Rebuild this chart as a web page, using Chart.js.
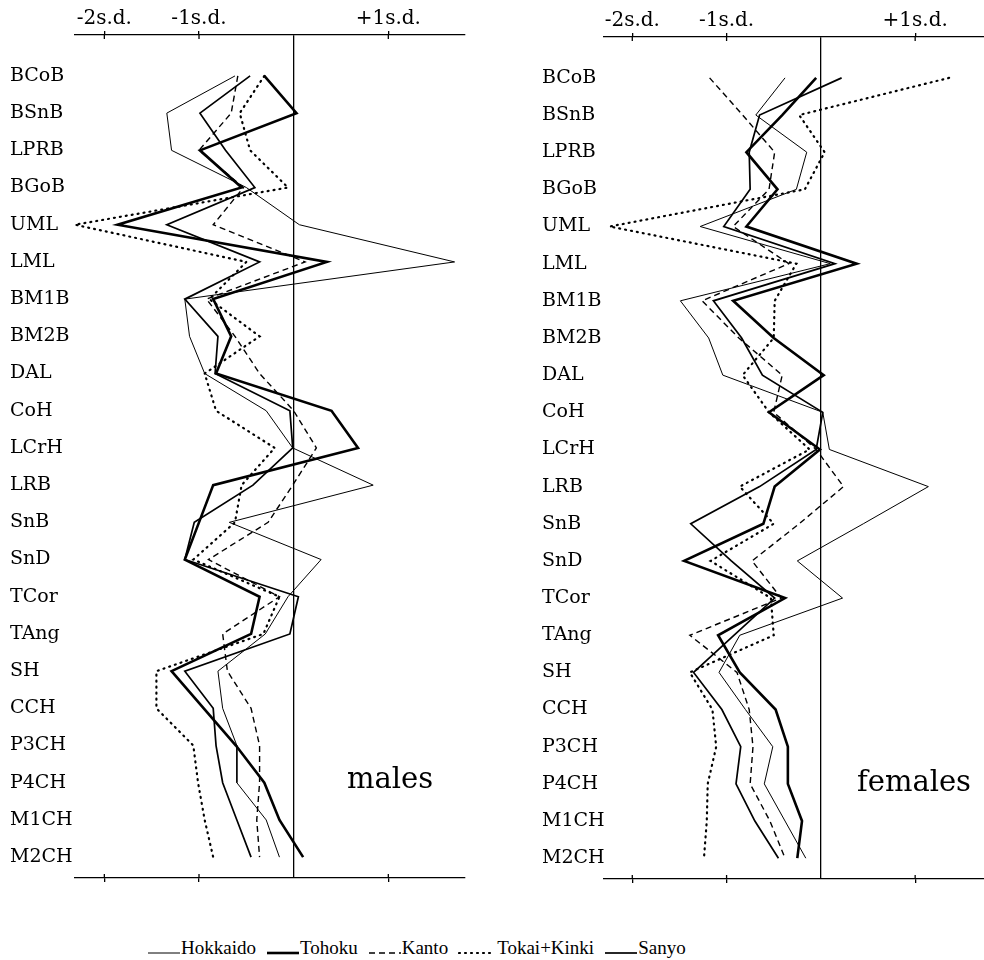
<!DOCTYPE html>
<html lang="en">
<head>
<meta charset="UTF-8">
<title>Profiles of males and females</title>
<script src="https://cdn.jsdelivr.net/npm/chart.js"></script>
<style>
    body {
        margin: 0;
        background: #fff;
        width: 984px;
        height: 960px;
        position: relative;
        overflow: hidden;
    }
    .panel { position: absolute; top: 0; }
    #malesBox { left: 0; }
    #femalesBox { left: 490px; }
    .sexLabel {
        position: absolute;
        font-family: "DejaVu Serif", serif;
        font-size: 29px;
        line-height: 29px;
        color: #000;
    }
    #legend {
        position: absolute;
        left: 147px;
        top: 937px;
        display: flex;
        align-items: center;
        font-family: "Liberation Serif", serif;
        font-size: 19px;
        line-height: 22px;
        color: #000;
    }
    .item { display: flex; align-items: center; margin-right: 10px; }
    .item.spaced span { margin-left: 5px; }
</style>
</head>
<body>
    <div class="panel" id="malesBox"><canvas id="malesChart" width="490" height="900"></canvas></div>
    <div class="panel" id="femalesBox"><canvas id="femalesChart" width="494" height="900"></canvas></div>
    <div class="sexLabel" style="left:347px; top:764px;">males</div>
    <div class="sexLabel" style="left:857px; top:767px;">females</div>
    <div id="legend"></div>

<script>
    const categories = ['BCoB', 'BSnB', 'LPRB', 'BGoB', 'UML', 'LML', 'BM1B', 'BM2B', 'DAL', 'CoH', 'LCrH',
        'LRB', 'SnB', 'SnD', 'TCor', 'TAng', 'SH', 'CCH', 'P3CH', 'P4CH', 'M1CH', 'M2CH'];
    const seriesNames = ['Hokkaido', 'Tohoku', 'Kanto', 'Tokai+Kinki', 'Sanyo'];
    const xTicks = [-2, -1, 0, 1];

    // males, in s.d. units
    const malesHokkaido = [-0.62, -1.34, -1.29, -0.50, 0.06, 1.70, -1.15, -1.10, -0.94, -0.29, -0.01,
        0.84, -0.68, 0.29, -0.06, -0.30, -0.80, -0.75, -0.60, -0.60, -0.29, -0.15];
    const malesTohoku = [-0.31, 0.03, -0.99, -0.55, -1.86, 0.35, -0.85, -0.66, -0.82, 0.40, 0.68,
        -0.85, -1.00, -1.15, -0.36, -0.45, -1.29, -0.95, -0.61, -0.31, -0.15, 0.10];
    const malesKanto = [-0.59, -0.66, -1.00, -0.53, -0.85, 0.12, -0.92, -0.62, -0.36, 0.00, 0.24,
        -0.01, -0.27, -0.90, -0.15, -0.75, -0.70, -0.45, -0.36, -0.36, -0.39, -0.36];
    const malesTokaiKinki = [-0.31, -0.57, -0.46, -0.06, -2.31, -0.50, -0.89, -0.36, -0.94, -0.82, -0.20,
        -0.55, -0.62, -1.06, -0.15, -0.32, -1.45, -1.45, -1.06, -1.01, -0.94, -0.85];
    const malesSanyo = [-0.46, -0.99, -0.72, -0.41, -1.34, -0.36, -1.15, -0.80, -0.83, -0.04, -0.01,
        -0.43, -1.05, -1.15, 0.05, -0.04, -1.15, -0.85, -0.82, -0.75, -0.60, -0.45];

    // females, in s.d. units
    const femalesHokkaido = [-0.38, -0.69, -0.15, -0.26, -1.28, 0.10, -1.49, -1.19, -1.04, 0.02, 0.09,
        1.14, 0.45, -0.25, 0.23, -0.86, -1.08, -0.80, -0.51, -0.60, -0.38, -0.16];
    const femalesTohoku = [-0.05, -0.41, -0.79, -0.46, -0.79, 0.38, -0.93, -0.50, 0.03, -0.55, -0.01,
        -0.49, -0.61, -1.45, -0.38, -1.09, -0.86, -0.48, -0.35, -0.35, -0.20, -0.25];
    const femalesKanto = [-1.18, -0.83, -0.49, -0.55, -0.93, -0.34, -1.26, -0.87, -0.41, -0.50, -0.05,
        0.24, -0.23, -0.73, -0.42, -1.39, -0.89, -0.76, -0.72, -0.75, -0.54, -0.38];
    const femalesTokaiKinki = [1.36, -0.23, 0.04, -0.17, -2.24, -0.26, -0.49, -0.50, -0.83, -0.55, -0.12,
        -0.86, -0.50, -1.17, -0.53, -0.50, -1.39, -1.15, -1.11, -1.20, -1.21, -1.24];
    const femalesSanyo = [0.22, -0.65, -0.76, -0.75, -1.03, 0.15, -1.14, -0.84, -0.62, 0.02, -0.05,
        -0.65, -1.38, -0.95, -0.49, -0.92, -1.35, -1.05, -0.85, -0.90, -0.70, -0.45];

    // how each region is drawn (same order as seriesNames)
    const lineStyles = [
        { width: 1, dash: [], cap: 'butt' },
        { width: 2.6, dash: [], cap: 'butt' },
        { width: 1.4, dash: [6, 4], cap: 'butt' },
        { width: 2.2, dash: [1, 5], cap: 'round' },
        { width: 1.7, dash: [], cap: 'butt' }
    ];

    const serif = '"DejaVu Serif", serif';

    // short tick marks that cross the axis line into the plot
    const crossTicks = {
        id: 'crossTicks',
        afterDraw(chart) {
            const { ctx, chartArea } = chart;
            ctx.save();
            ctx.strokeStyle = '#000';
            ctx.lineWidth = 1.3;
            ['x', 'x2'].forEach(id => {
                const s = chart.scales[id];
                const y0 = id === 'x' ? chartArea.top : chartArea.bottom;
                const dir = id === 'x' ? 1 : -1;
                s.ticks.forEach(t => {
                    if (t.value === 0) return;
                    const px = s.getPixelForValue(t.value);
                    ctx.beginPath();
                    ctx.moveTo(px, y0);
                    ctx.lineTo(px, y0 + dir * 4);
                    ctx.stroke();
                });
            });
            ctx.restore();
        }
    };

    function xAxis(pos, min, max, height, withLabels) {
        return {
            type: 'linear',
            position: pos,
            min: min,
            max: max,
            afterBuildTicks: s => { s.ticks = xTicks.map(v => ({ value: v })); },
            afterFit: s => { s.height = height; },
            ticks: {
                padding: 0,
                color: '#000',
                font: { family: serif, size: 20 },
                callback: v => (!withLabels || v === 0) ? '' : (v > 0 ? '+' + v : String(v)) + 's.d.'
            },
            grid: {
                drawOnChartArea: pos === 'top',
                color: c => (c.tick && c.tick.value === 0) ? '#000' : 'rgba(0,0,0,0)',
                lineWidth: 1.3,
                tickLength: 4,
                tickColor: c => (c.tick && c.tick.value === 0) ? 'rgba(0,0,0,0)' : '#000'
            },
            border: { display: true, color: '#000', width: 1.3 }
        };
    }

    function makePanel(canvasId, valueLists, opt) {
        const datasets = seriesNames.map((name, k) => ({
            label: name,
            data: valueLists[k].map((v, i) => ({ x: v, y: i })),
            showLine: true,
            borderColor: '#000',
            borderWidth: lineStyles[k].width,
            borderDash: lineStyles[k].dash,
            borderCapStyle: lineStyles[k].cap,
            pointRadius: 0,
            tension: 0,
            fill: false
        }));

        return new Chart(document.getElementById(canvasId), {
            type: 'scatter',
            data: { datasets: datasets },
            options: {
                responsive: false,
                animation: false,
                events: [],
                layout: { padding: opt.padding },
                plugins: { legend: { display: false }, tooltip: { enabled: false } },
                scales: {
                    x: xAxis('top', opt.min, opt.max, opt.topHeight, true),
                    x2: xAxis('bottom', opt.min, opt.max, 16, false),
                    y: {
                        type: 'linear',
                        reverse: true,
                        min: -1.1,
                        max: 21.56,
                        afterBuildTicks: s => { s.ticks = categories.map((_, i) => ({ value: i })); },
                        afterFit: s => { s.width = opt.yWidth; },
                        ticks: {
                            crossAlign: 'far',
                            color: '#000',
                            font: { family: serif, size: 19 },
                            callback: v => categories[v]
                        },
                        grid: { display: false },
                        border: { display: false }
                    }
                }
            },
            plugins: [crossTicks]
        });
    }

    makePanel('malesChart',
        [malesHokkaido, malesTohoku, malesKanto, malesTokaiKinki, malesSanyo],
        { min: -2.31, max: 1.81, topHeight: 35, yWidth: 65, padding: { left: 10, right: 25, top: 0, bottom: 6 } });

    makePanel('femalesChart',
        [femalesHokkaido, femalesTohoku, femalesKanto, femalesTokaiKinki, femalesSanyo],
        { min: -2.30, max: 1.73, topHeight: 37, yWidth: 62, padding: { left: 52, right: 0, top: 0, bottom: 5 } });

    // shared legend under both panels
    const legend = document.getElementById('legend');
    seriesNames.forEach((name, k) => {
        const st = lineStyles[k];
        const item = document.createElement('div');
        item.className = st.cap === 'round' ? 'item spaced' : 'item';
        item.innerHTML =
            `<svg width="34" height="16"><line x1="1" y1="13" x2="33" y2="13" stroke="#000"
                stroke-width="${st.width}" stroke-dasharray="${st.dash.join(' ')}" stroke-linecap="${st.cap}"/></svg>` +
            `<span>${name}</span>`;
        legend.appendChild(item);
    });
</script>
</body>
</html>
